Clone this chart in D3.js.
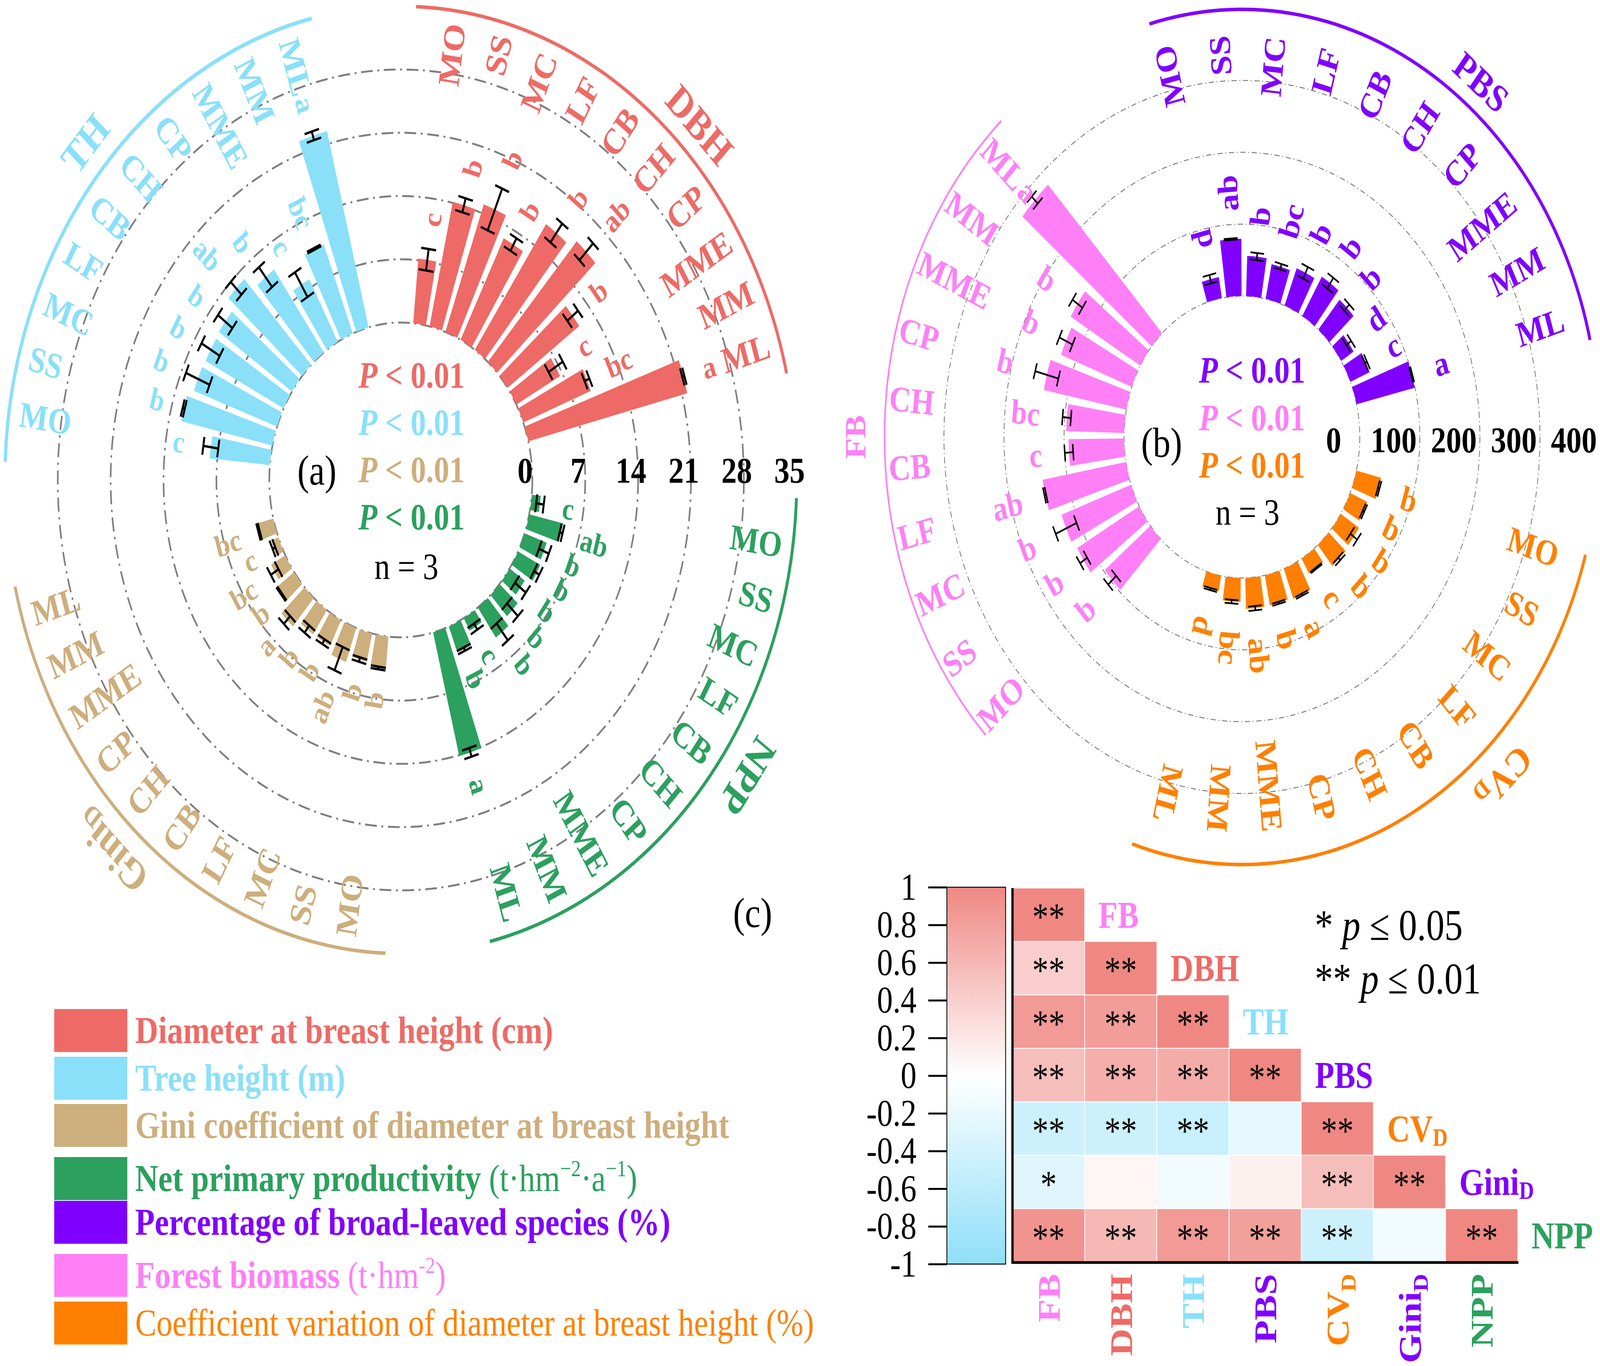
<!DOCTYPE html>
<html lang="en">
<head>
<meta charset="utf-8">
<title>Stand structure polar bars and correlations</title>
<script src="https://d3js.org/d3.v7.min.js"></script>
<style>
html, body { margin: 0; padding: 0; background: #fff; overflow: hidden; }
svg { display: block; width: 100vw; height: 100vh; }
text { font-family: "Liberation Serif", "Times New Roman", serif; }
</style>
</head>
<body>
<script>
// ---- data ----
var sites = ["MO", "SS", "MC", "LF", "CB", "CH", "CP", "MME", "MM", "ML"];

// panel (a)
var dbhMean = [7.2, 14.1, 15.0, 12.6, 16.8, 17.8, 11.7, 6.6, 9.6, 21.7];
var dbhSd   = [1.2, 0.8, 2.5, 0.8, 1.3, 1.3, 0.9, 1.1, 0.35, 0.15];
var dbhSig  = ["c", "b", "b", "b", "b", "ab", "b", "c", "bc", "a"];

var thMean = [8.0, 12.4, 11.7, 11.6, 11.7, 13.0, 11.3, 7.9, 10.6, 22.4];
var thSd   = [1.0, 0.15, 1.7, 1.4, 1.2, 1.0, 1.4, 1.6, 0.1, 0.5];
var thSig  = ["c", "b", "b", "b", "b", "ab", "b", "c", "bc", "a"];

var giniMean = [3.6, 3.2, 4.0, 3.2, 3.25, 4.2, 2.8, 2.15, 1.0, 2.2];
var giniSd   = [0.15, 0.25, 1.4, 0.3, 0.5, 0.6, 0.08, 0.6, 0.2, 0.1];
var giniSig  = ["b", "b", "ab", "b", "b", "a", "b", "bc", "c", "bc"];

var nppMean = [1.2, 4.6, 3.1, 3.3, 2.4, 3.2, 4.1, 1.6, 3.1, 14.1];
var nppSd   = [0.5, 0.2, 0.7, 0.4, 0.9, 1.0, 1.2, 0.4, 0.2, 0.5];
var nppSig  = ["c", "ab", "b", "b", "b", "b", "b", "c", "b", "a"];

// panel (b)
var pbsMean = [29.6, 79.6, 56.0, 49.3, 55.6, 63.5, 54.6, 24.5, 34.8, 99.5];
var pbsSd   = [6, 1, 5, 4, 9, 9, 6, 5, 2, 1];
var pbsSig  = ["d", "ab", "b", "bc", "b", "b", "b", "d", "c", "a"];

var fbMean = [97.8, 118.5, 123, 141, 92.6, 96.7, 140, 125.9, 134.5, 281];
var fbSd   = [9, 7, 19, 1.5, 7, 7, 20, 12, 10, 7];
var fbSig  = ["b", "b", "b", "ab", "c", "bc", "b", "b", "b", "a"];

var cvdMean = [42.4, 31, 36, 38.3, 24.3, 44.9, 42.6, 43, 33.5, 21.9];
var cvdSd   = [1.5, 1.5, 7, 2.5, 1, 1.5, 1.5, 3, 2.5, 1.5];
var cvdSig  = ["b", "b", "b", "b", "c", "a", "b", "ab", "bc", "d"];

// panel (c)
var corrVars = ["FB", "DBH", "TH", "PBS", "CVD", "GiniD", "NPP"];
var corrR = [
  [1],
  [0.42, 1],
  [0.85, 0.82, 1],
  [0.55, 0.68, 0.7, 1],
  [-0.45, -0.45, -0.5, -0.22, 1],
  [-0.28, 0.08, -0.12, 0.12, 0.55, 1],
  [0.9, 0.6, 0.85, 0.8, -0.45, -0.12, 1]
];
var corrStars = [
  ["**"],
  ["**", "**"],
  ["**", "**", "**"],
  ["**", "**", "**", "**"],
  ["**", "**", "**", "", "**"],
  ["*", "", "", "", "**", "**"],
  ["**", "**", "**", "**", "**", "", "**"]
];
var cbTicks = [1, 0.8, 0.6, 0.4, 0.2, 0, -0.2, -0.4, -0.6, -0.8, -1];

var C = {
  dbh: "#ee6a66", th: "#8ae0f9", gini: "#cdae7d", npp: "#2ca05f",
  pbs: "#8000ff", fb: "#ff80f6", cvd: "#ff8000"
};
var varColor = {FB: C.fb, DBH: C.dbh, TH: C.th, PBS: C.pbs, CVD: C.cvd, GiniD: C.pbs, NPP: C.npp};

// ---- drawing ----
var W = 4902, H = 3498;
// the figure is laid out in 4902x3498 units and stretched onto the window
var svg = d3.select("body").append("svg")
  .attr("viewBox", "0 0 " + W + " " + H)
  .attr("preserveAspectRatio", "none");
svg.append("rect").attr("width", W).attr("height", H).attr("fill", "#fff");

function rad(d) { return d * Math.PI / 180; }
function pt(a, r) { return [r * Math.sin(rad(a)), -r * Math.cos(rad(a))]; }

function addLabel(sel, main, sub) {
  sel.append("tspan").text(main);
  if (sub) sel.append("tspan").attr("font-size", "65%").attr("dy", "0.35em").text(sub);
}

function drawPolar(p) {
  var r = d3.scaleLinear().domain([0, p.max]).range([p.r0, p.r1]);
  var g = svg.append("g").attr("transform", "translate(" + p.cx + "," + p.cy + ")");

  g.selectAll("circle").data(p.rings).enter().append("circle")
    .attr("r", function (d) { return r(d); })
    .attr("fill", "none").attr("stroke", "#7f7f7f")
    .attr("stroke-width", p.ringW).attr("stroke-dasharray", p.dash);

  p.groups.forEach(function (gr) {
    var rows = sites.map(function (s, i) {
      return {site: s, v: gr.mean[i], sd: gr.sd[i], sig: gr.sig[i], a: gr.start + i * p.slot};
    });
    var rot = function (d) { return gr.outward ? d.a - 90 : d.a + 90; };
    var labelR = gr.labelR || p.labelR;

    var bar = d3.arc().innerRadius(p.r0)
      .outerRadius(function (d) { return r(d.v); })
      .startAngle(function (d) { return rad(d.a - p.bw / 2); })
      .endAngle(function (d) { return rad(d.a + p.bw / 2); });
    g.append("g").selectAll("path").data(rows).enter().append("path")
      .attr("d", bar).attr("fill", gr.color);

    var eb = g.append("g").selectAll("g").data(rows).enter().append("g")
      .attr("transform", function (d) { return "rotate(" + d.a + ")"; })
      .attr("stroke", "#000").attr("stroke-width", p.errW);
    eb.append("line").attr("x1", 0).attr("x2", 0)
      .attr("y1", function (d) { return -r(d.v - d.sd); })
      .attr("y2", function (d) { return -r(d.v + d.sd); });
    [1, -1].forEach(function (s) {
      eb.append("line").attr("x1", -p.capL / 2).attr("x2", p.capL / 2)
        .attr("y1", function (d) { return -r(d.v + s * d.sd); })
        .attr("y2", function (d) { return -r(d.v + s * d.sd); });
    });

    // site labels, outer edge on labelR
    g.append("g").selectAll("text").data(rows).enter().append("text")
      .attr("transform", function (d) {
        return "translate(" + pt(d.a, labelR) + ") rotate(" + rot(d) + ")";
      })
      .attr("text-anchor", gr.outward ? "end" : "start")
      .attr("dominant-baseline", "central")
      .attr("font-size", p.labelSize).attr("font-weight", "bold")
      .attr("fill", gr.color).text(function (d) { return d.site; })
      .each(function (d) { d.labelIn = labelR - this.getComputedTextLength(); });

    // significance letters, pulled in if they would run into the label
    g.append("g").selectAll("text").data(rows).enter().append("text")
      .attr("text-anchor", gr.outward ? "start" : "end")
      .attr("dominant-baseline", "central")
      .attr("font-size", p.sigSize).attr("font-weight", "bold")
      .attr("fill", gr.color).text(function (d) { return d.sig; })
      .attr("transform", function (d) {
        var w = this.getComputedTextLength();
        var rr = Math.min(r(d.v + d.sd) + p.sigGap, d.labelIn - 6 - w);
        return "translate(" + pt(d.a, rr) + ") rotate(" + rot(d) + ")";
      });

    var band = d3.arc().innerRadius(p.arcR - gr.arcW / 2).outerRadius(p.arcR + gr.arcW / 2)
      .startAngle(rad(gr.start - p.arcPre)).endAngle(rad(gr.start + 9 * p.slot + p.arcPost));
    g.append("path").attr("d", band()).attr("fill", gr.color);

    var t = g.append("text")
      .attr("transform", "translate(" + pt(gr.titleA, gr.titleR) + ") rotate(" + gr.titleA + ")")
      .attr("text-anchor", "middle").attr("dominant-baseline", "central")
      .attr("font-size", gr.titleSize).attr("font-weight", "bold").attr("fill", gr.color);
    addLabel(t, gr.title, gr.titleSub);
  });

  svg.append("g").selectAll("text").data(p.ticks).enter().append("text")
    .attr("x", function (d) { return p.cx + r(d) + p.tickDx; })
    .attr("y", p.tickY).attr("text-anchor", "middle")
    .attr("font-size", 94).attr("font-weight", "bold").attr("fill", "#000")
    .text(function (d) { return d; });

  svg.append("text").attr("x", p.tag[0]).attr("y", p.tag[1])
    .attr("text-anchor", "middle").attr("dominant-baseline", "central")
    .attr("font-size", 108).text(p.tagText);

  p.pColors.forEach(function (c, i) {
    var t = svg.append("text").attr("x", p.pX).attr("y", p.pY[i])
      .attr("text-anchor", "middle").attr("dominant-baseline", "central")
      .attr("font-size", 95).attr("font-weight", "bold").attr("fill", c);
    t.append("tspan").attr("font-style", "italic").text("P");
    t.append("tspan").text(" < 0.01");
  });
  svg.append("text").attr("x", p.nPos[0]).attr("y", p.nPos[1])
    .attr("text-anchor", "middle").attr("dominant-baseline", "central")
    .attr("font-size", 95).text("n = 3");
}

drawPolar({
  cx: 1228, cy: 1229, r0: 403, r1: 1213, max: 35,
  rings: [0, 7, 14, 21, 28], ticks: [0, 7, 14, 21, 28, 35],
  slot: 7.2, bw: 5.6, ringW: 5, dash: "36,14,6,14",
  capL: 46, errW: 6, labelR: 1180, labelSize: 93, sigSize: 80, sigGap: 58,
  arcR: 1213, arcPre: 6, arcPost: 4, tickDx: -22, tickY: 1236,
  tag: [971, 1205], tagText: "(a)", pX: 1261, pY: [960, 1081, 1202, 1323],
  pColors: [C.dbh, C.th, C.gini, C.npp], nPos: [1245, 1451],
  groups: [
    {color: C.dbh, mean: dbhMean, sd: dbhSd, sig: dbhSig, start: 8.2, outward: true,
     arcW: 9, title: "DBH", titleA: 45.2, titleR: 1290, titleSize: 110},
    {color: C.npp, mean: nppMean, sd: nppSd, sig: nppSig, start: 98.2, outward: true,
     arcW: 9, title: "NPP", titleA: 125.5, titleR: 1305, titleSize: 110},
    {color: C.gini, mean: giniMean, sd: giniSd, sig: giniSig, start: 188.2, outward: false,
     arcW: 9, title: "Gini", titleSub: "D", titleA: 223, titleR: 1300, titleSize: 110},
    {color: C.th, mean: thMean, sd: thSd, sig: thSig, start: 278.2, outward: false,
     arcW: 10, title: "TH", titleA: 311.7, titleR: 1295, titleSize: 110}
  ]
});

drawPolar({
  cx: 3805, cy: 1119, r0: 361, r1: 1097, max: 400,
  rings: [0, 100, 200, 300], ticks: [0, 100, 200, 300, 400],
  slot: 9.6, bw: 7.4, ringW: 2.5, dash: "16,8,3,8",
  capL: 42, errW: 4.5, labelR: 1030, labelSize: 92, sigSize: 88, sigGap: 70,
  arcR: 1095, arcPre: 1.5, arcPost: 4, tickDx: -80, tickY: 1158,
  tag: [3559, 1134], tagText: "(b)", pX: 3836, pY: [947, 1069, 1190],
  pColors: [C.pbs, C.fb, C.cvd], nPos: [3822, 1312],
  groups: [
    {color: C.pbs, mean: pbsMean, sd: pbsSd, sig: pbsSig, start: -13.5, outward: true,
     arcW: 9, labelR: 1030, title: "PBS", titleA: 38.9, titleR: 1167, titleSize: 100},
    {color: C.cvd, mean: cvdMean, sd: cvdSd, sig: cvdSig, start: 107.5, outward: true,
     arcW: 9, labelR: 1015, title: "CV", titleSub: "D", titleA: 137.4, titleR: 1186, titleSize: 100},
    {color: C.fb, mean: fbMean, sd: fbSd, sig: fbSig, start: 227.3, outward: false,
     arcW: 5, labelR: 1085, title: "FB", titleA: 270, titleR: 1183, titleSize: 88}
  ]
});

// ---- (c) correlation matrix ----
svg.append("text").attr("x", 2306).attr("y", 2338)
  .attr("text-anchor", "middle").attr("dominant-baseline", "central")
  .attr("font-size", 108).text("(c)");

var corrColor = d3.scaleLinear().domain([-1, 0, 1]).range(["#8fdff8", "#ffffff", "#ef8883"]);
var hx = d3.scaleBand().domain(corrVars).range([3102, 4650]);
var hy = d3.scaleBand().domain(corrVars).range([2274, 3232]);

var cells = [];
corrR.forEach(function (row, i) {
  row.forEach(function (v, j) {
    cells.push({row: corrVars[i], col: corrVars[j], v: v, star: corrStars[i][j]});
  });
});
var hm = svg.append("g");
hm.selectAll("rect").data(cells).enter().append("rect")
  .attr("x", function (d) { return hx(d.col); })
  .attr("y", function (d) { return hy(d.row); })
  .attr("width", hx.bandwidth()).attr("height", hy.bandwidth())
  .attr("fill", function (d) { return corrColor(d.v); })
  .attr("stroke", "#fff").attr("stroke-width", 2);
hm.selectAll("text").data(cells).enter().append("text")
  .attr("x", function (d) { return hx(d.col) + hx.bandwidth() / 2; })
  .attr("y", function (d) { return hy(d.row) + hy.bandwidth() / 2 + 39; })
  .attr("text-anchor", "middle").attr("font-size", 100).attr("fill", "#000")
  .text(function (d) { return d.star; });

function varLabel(sel, v) {
  if (v === "CVD") addLabel(sel, "CV", "D");
  else if (v === "GiniD") addLabel(sel, "Gini", "D");
  else sel.text(v);
}

corrVars.forEach(function (v) {
  var t = svg.append("text")
    .attr("x", hx(v) + hx.bandwidth() + 42).attr("y", hy(v) + hy.bandwidth() / 2)
    .attr("dominant-baseline", "central").attr("font-size", 97)
    .attr("font-weight", "bold").attr("fill", varColor[v]);
  varLabel(t, v);
  var b = svg.append("text")
    .attr("transform", "translate(" + (hx(v) + hx.bandwidth() / 2) + ",3262) rotate(-90)")
    .attr("text-anchor", "end").attr("dy", "0.35em").attr("font-size", 97)
    .attr("font-weight", "bold").attr("fill", varColor[v]);
  varLabel(b, v);
});

svg.append("line").attr("x1", 3102).attr("x2", 3102).attr("y1", 2274).attr("y2", 3236)
  .attr("stroke", "#000").attr("stroke-width", 7);
svg.append("line").attr("x1", 3099).attr("x2", 4652).attr("y1", 3233).attr("y2", 3233)
  .attr("stroke", "#000").attr("stroke-width", 7);

// colour bar
var cbY = d3.scaleLinear().domain([-1, 1]).range([3237, 2272]);
var grad = svg.append("defs").append("linearGradient").attr("id", "cbgrad")
  .attr("x1", 0).attr("y1", 0).attr("x2", 0).attr("y2", 1);
[1, 0, -1].forEach(function (v) {
  grad.append("stop").attr("offset", (1 - v) / 2).attr("stop-color", corrColor(v));
});
svg.append("rect").attr("x", 2901).attr("y", cbY(1)).attr("width", 180)
  .attr("height", cbY(-1) - cbY(1)).attr("fill", "url(#cbgrad)")
  .attr("stroke", "#000").attr("stroke-width", 2.5);
var cbAxis = svg.append("g").attr("transform", "translate(2901,0)")
  .call(d3.axisLeft(cbY).tickValues(cbTicks).tickSize(57).tickPadding(36)
    .tickFormat(function (d) { var s = Math.round(d * 10) / 10; return s === 0 ? "0" : String(s); }));
cbAxis.select(".domain").remove();
cbAxis.selectAll("line").attr("stroke-width", 5);
cbAxis.selectAll("text").attr("font-size", 97)
  .attr("font-family", "Liberation Serif, Times New Roman, serif");

// significance key
[["*", "0.05", 2407], ["**", "0.01", 2544]].forEach(function (k) {
  var t = svg.append("text").attr("x", 4028).attr("y", k[2]).attr("font-size", 112).attr("fill", "#000");
  t.append("tspan").text(k[0] + " ");
  t.append("tspan").attr("font-style", "italic").text("p");
  t.append("tspan").text(" \u2264 " + k[1]);
});

// ---- legend ----
var legendItems = [
  {color: C.dbh, parts: [["Diameter at breast height (cm)", "b"]]},
  {color: C.th, parts: [["Tree height (m)", "b"]]},
  {color: C.gini, parts: [["Gini coefficient of diameter at breast height", "b"]]},
  {color: C.npp, parts: [["Net primary productivity ", "b"], ["(t\u00b7hm", "n"], ["\u22122", "sup"],
    ["\u00b7a", "n"], ["\u22121", "sup"], [")", "n"]]},
  {color: C.pbs, parts: [["Percentage of broad-leaved species (%)", "b"]]},
  {color: C.fb, parts: [["Forest biomass ", "b"], ["(t\u00b7hm", "n"], ["-2", "sup"], [")", "n"]]},
  {color: C.cvd, parts: [["Coefficient variation of diameter at breast height (%)", "n"]]}
];
var legendRowY = [2639, 2761, 2882, 3018, 3130, 3266, 3388];

legendItems.forEach(function (it, i) {
  var y = legendRowY[i];
  svg.append("rect").attr("x", 166).attr("y", y - 55).attr("width", 224).attr("height", 110)
    .attr("fill", it.color);
  var t = svg.append("text").attr("x", 414).attr("y", y + 32)
    .attr("font-size", 98).attr("fill", it.color);
  var raised = false;
  it.parts.forEach(function (p) {
    var s = t.append("tspan").text(p[0]);
    if (p[1] === "b") s.attr("font-weight", "bold");
    if (p[1] === "sup") { s.attr("font-size", 60).attr("dy", -38); raised = true; }
    else if (raised) { s.attr("dy", 38); raised = false; }
  });
});
</script>
</body>
</html>
